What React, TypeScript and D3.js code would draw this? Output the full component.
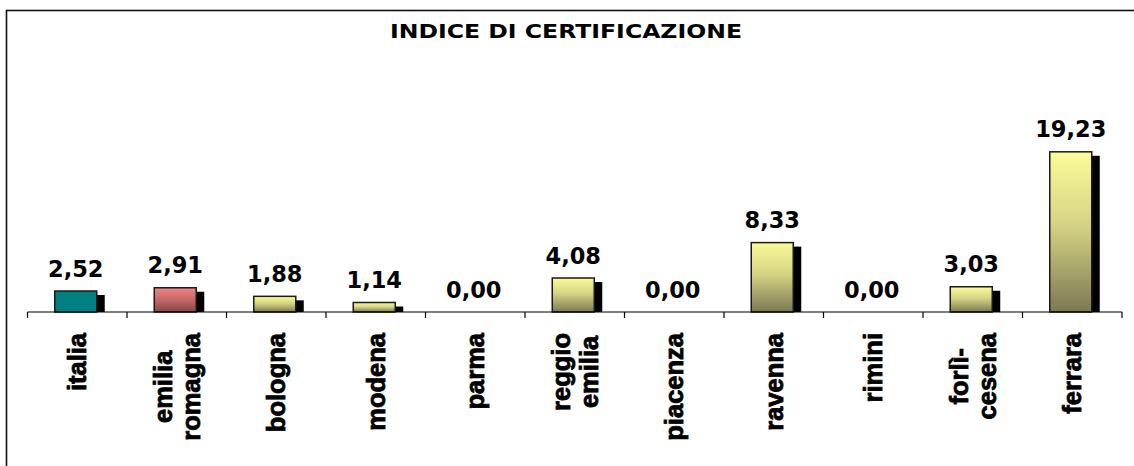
import React from "react";
import * as d3 from "d3";

const categories: string[] = [
  "italia",
  "emilia\nromagna",
  "bologna",
  "modena",
  "parma",
  "reggio\nemilia",
  "piacenza",
  "ravenna",
  "rimini",
  "forlì-\ncesena",
  "ferrara",
];
const values: number[] = [2.52, 2.91, 1.88, 1.14, 0.0, 4.08, 0.0, 8.33, 0.0, 3.03, 19.23];
const fillKinds: string[] = ["teal", "red", "yellow", "yellow", "yellow", "yellow", "yellow", "yellow", "yellow", "yellow", "yellow"];
const title = "INDICE DI CERTIFICAZIONE";

const W = 1134;
const H = 466;
const axisY = 312;
const x0 = 27.5;
const x1 = 1122;
const labelFont = "bold 25.5px 'Liberation Sans', Arial, sans-serif";

let ctx: CanvasRenderingContext2D | null = null;
function measure(t: string): number {
  if (!ctx) {
    const c = document.createElement("canvas");
    ctx = c.getContext("2d");
  }
  if (!ctx) return t.length * 14;
  ctx.font = labelFont;
  return ctx.measureText(t).width;
}

export default function App() {
  const x = d3.scaleBand<string>().domain(categories).range([x0, x1]).padding(0);
  const y = d3.scaleLinear().domain([0, 25]).range([axisY, axisY - 25 * 8.33]);
  const barW = 42;
  const fmt = (v: number) => v.toFixed(2).replace(".", ",");
  const ticks = [x0, ...categories.map((c) => (x(c) as number) + x.bandwidth())];

  return (
    <svg width={W} height={H} style={{ position: "absolute", left: 0, top: 0, background: "#fff" }}>
      <defs>
        <linearGradient id="gYellow" x1="0" y1="0" x2="0" y2="1">
          <stop offset="0" stopColor="#fbfb98" />
          <stop offset="0.45" stopColor="#d6d484" />
          <stop offset="1" stopColor="#7c7853" />
        </linearGradient>
        <linearGradient id="gRed" x1="0" y1="0" x2="0" y2="1">
          <stop offset="0" stopColor="#f48585" />
          <stop offset="0.5" stopColor="#c46868" />
          <stop offset="1" stopColor="#864646" />
        </linearGradient>
      </defs>
      <rect x={6.5} y={10.5} width={1300} height={600} fill="#fff" stroke="#111" strokeWidth={1.6} />
      <text
        x={566}
        y={37.5}
        textAnchor="middle"
        fontFamily="'DejaVu Sans', Verdana, sans-serif"
        fontWeight="bold"
        fontSize={19.5}
        textLength={352}
        lengthAdjust="spacingAndGlyphs"
        fill="#000"
      >
        {title}
      </text>
      {categories.map((c, i) => {
        const v = values[i];
        const cx = (x(c) as number) + x.bandwidth() / 2 - 1.5;
        const top = y(v);
        const h = axisY - top;
        const fill = fillKinds[i] === "teal" ? "#008080" : fillKinds[i] === "red" ? "url(#gRed)" : "url(#gYellow)";
        return (
          <g key={c}>
            {h > 0 && (
              <>
                <rect x={cx - barW / 2 + 8} y={top + 4} width={barW} height={Math.max(0, h - 4)} fill="#000" />
                <rect x={cx - barW / 2} y={top} width={barW} height={h} fill={fill} stroke="#1a1a1a" strokeWidth={1.5} />
              </>
            )}
            <text
              x={cx}
              y={top - 14.5}
              textAnchor="middle"
              fontFamily="'DejaVu Sans', Verdana, sans-serif"
              fontWeight="bold"
              fontSize={22.5}
              fill="#000"
            >
              {fmt(v)}
            </text>
          </g>
        );
      })}
      <line x1={x0} x2={x1} y1={axisY} y2={axisY} stroke="#000" strokeWidth={1.2} />
      {ticks.map((t, i) => (
        <line key={i} x1={t} x2={t} y1={axisY} y2={axisY + 6} stroke="#000" strokeWidth={1.2} />
      ))}
      {categories.map((c) => {
        const lines = c.split("\n");
        const L = Math.max(...lines.map(measure));
        const cx = (x(c) as number) + x.bandwidth() / 2;
        const n = lines.length;
        return (
          <g key={c} transform={`translate(${cx},333) rotate(-90)`}>
            {lines.map((ln, j) => (
              <text
                key={j}
                x={-L / 2}
                y={(j - (n - 1) / 2) * 28 + 8.9}
                textAnchor="middle"
                fontFamily="'Liberation Sans', Arial, sans-serif"
                fontWeight="bold"
                fontSize={25.5}
                fill="#000"
                stroke="#000"
                strokeWidth={0.8}
              >
                {ln}
              </text>
            ))}
          </g>
        );
      })}
    </svg>
  );
}
